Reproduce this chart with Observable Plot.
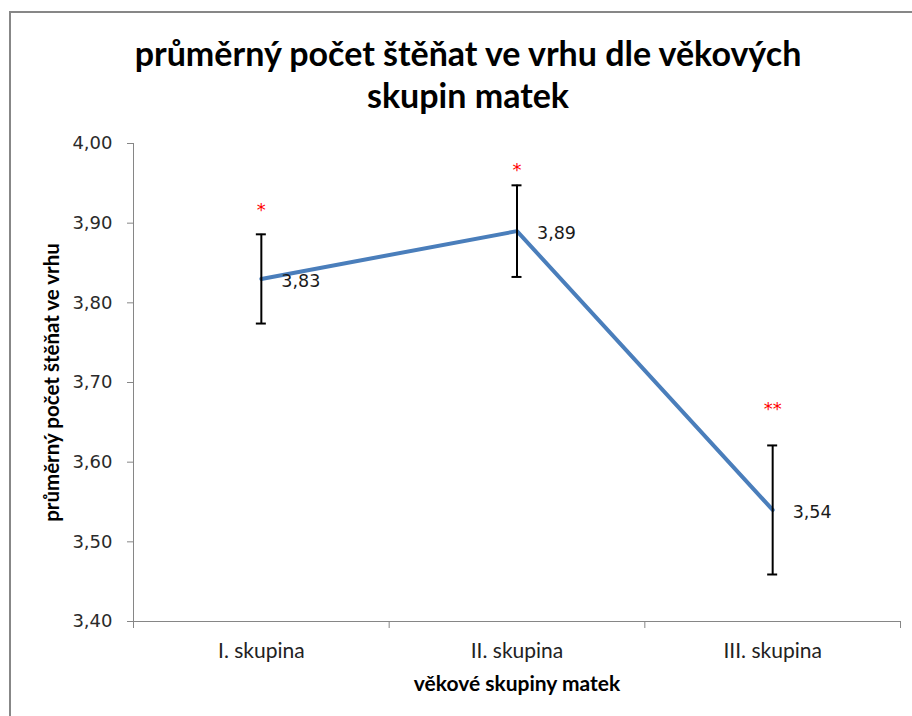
<!DOCTYPE html>
<html>
<head>
<meta charset="utf-8">
<script src="https://cdn.jsdelivr.net/npm/d3@7"></script>
<script src="https://cdn.jsdelivr.net/npm/@observablehq/plot@0.6"></script>
<style>
  html, body { margin: 0; padding: 0; background: #fff; overflow: hidden; }
  #wrap { position: relative; width: 912px; height: 716px; overflow: hidden; }
  #border { position: absolute; left: 9px; top: 11px; width: 1200px; height: 1200px;
            border-top: 2px solid #878787; border-left: 2px solid #878787; }
  #chart { position: absolute; left: 0; top: 0; }
</style>
</head>
<body>
<div id="wrap"><div id="border"></div><div id="chart"></div></div>
<script>
const title = "průměrný počet štěňat ve vrhu dle věkových\nskupin matek";
const yLabel = "průměrný počet štěňat ve vrhu";
const xLabel = "věkové skupiny matek";
const categories = ["I. skupina", "II. skupina", "III. skupina"];
const means = [3.83, 3.89, 3.54];
const errors = [0.056, 0.0575, 0.081];
const marks = ["*", "*", "**"];
const markY = [3.92, 3.97, 3.67];
const yTicks = [3.4, 3.5, 3.6, 3.7, 3.8, 3.9, 4.0];

const data = categories.map((c, i) => ({
  cat: c, pos: i + 0.5, mean: means[i],
  lo: means[i] - errors[i], hi: means[i] + errors[i],
  mark: marks[i], markY: markY[i]
}));
const fmt = d => d.toFixed(2).replace(".", ",");
const sans = "Lato, 'Open Sans', sans-serif";
const num = "'DejaVu Sans', Verdana, sans-serif";

const chart = Plot.plot({
  width: 912,
  height: 716,
  marginLeft: 133,
  marginRight: 12,
  marginTop: 143,
  marginBottom: 95,
  style: { fontFamily: num, fontSize: "18px", color: "#222", background: "transparent" },
  x: { type: "linear", domain: [0, categories.length], axis: null },
  y: { domain: [3.4, 4.0], axis: null },
  marks: [
    Plot.frame({ anchor: "left", stroke: "#868686" }),
    Plot.frame({ anchor: "bottom", stroke: "#868686" }),
    Plot.axisY({ ticks: yTicks, tickFormat: fmt, tickSize: 6, tickPadding: 15,
                 stroke: "#868686", fill: "#2a2a2a", fontSize: 18, label: null }),
    Plot.axisX({ ticks: d3.range(categories.length + 1), tickFormat: () => "",
                 tickSize: 7, stroke: "#868686", label: null }),
    Plot.text(data, { x: "pos", text: "cat", frameAnchor: "bottom", dy: 36,
                      fontFamily: sans, fontSize: 21, fill: "#222" }),
    Plot.text([xLabel], { frameAnchor: "bottom", dy: 69, text: d => d,
                          fontFamily: sans, fontSize: 21, fontWeight: "bold", fill: "#000" }),
    Plot.text([yLabel], { frameAnchor: "left", textAnchor: "middle", dx: -81, rotate: -90,
                          text: d => d,
                          fontFamily: sans, fontSize: 20.5, fontWeight: "bold", fill: "#000" }),
    Plot.text([title], { frameAnchor: "top", textAnchor: "middle", dx: -49, dy: -107,
                         lineAnchor: "top", lineHeight: 1.235, text: d => d,
                         fontFamily: sans, fontSize: 34, fontWeight: "bold", fill: "#000" }),
    Plot.line(data, { x: "pos", y: "mean", stroke: "#4a7ebb", strokeWidth: 4 }),
    Plot.ruleX(data, { x: "pos", y1: "lo", y2: "hi", stroke: "#000", strokeWidth: 2 }),
    Plot.ruleY(data, { x1: "pos", x2: "pos", y: "hi", insetLeft: -5, insetRight: -5,
                       stroke: "#000", strokeWidth: 2 }),
    Plot.ruleY(data, { x1: "pos", x2: "pos", y: "lo", insetLeft: -5, insetRight: -5,
                       stroke: "#000", strokeWidth: 2 }),
    Plot.text(data, { x: "pos", y: "mean", text: d => fmt(d.mean), textAnchor: "start",
                      dx: 20, dy: 2, fontFamily: num, fontSize: 17.5, fill: "#1a1a1a" }),
    Plot.text(data, { x: "pos", y: "markY", text: "mark", dy: 3,
                      fontFamily: num, fontSize: 18, fill: "#ff0000" })
  ]
});
document.getElementById("chart").appendChild(chart);
</script>
</body>
</html>
